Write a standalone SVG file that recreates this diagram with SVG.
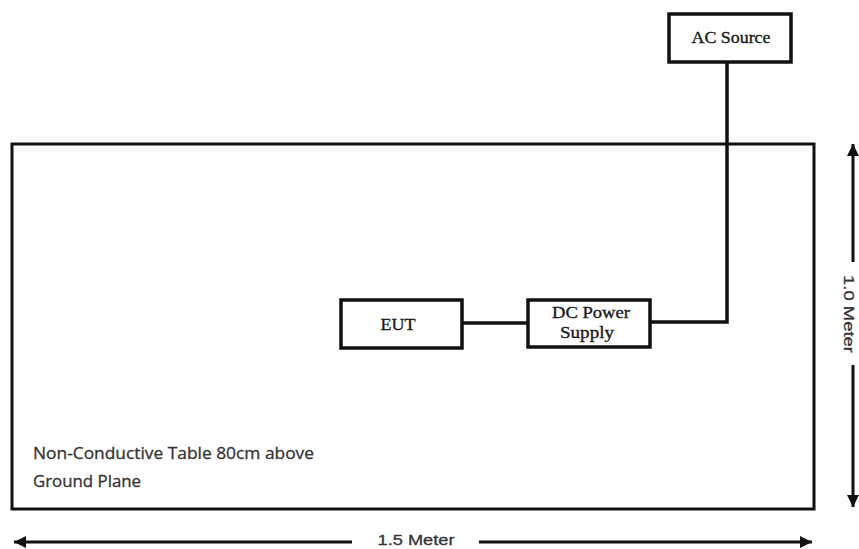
<svg xmlns="http://www.w3.org/2000/svg" width="859" height="549" viewBox="0 0 859 549">
<style>
.box{fill:#fff;stroke:#111;stroke-width:3.5}
.wire{fill:none;stroke:#111;stroke-width:3.5}
.lbl{font-family:"Liberation Serif",serif;font-size:17px;fill:#1a1a1a;text-anchor:middle;stroke:#1a1a1a;stroke-width:0.35}
.note{font-family:"Open Sans","Liberation Sans",sans-serif;font-size:16px;fill:#333;stroke:#333;stroke-width:0.3}
.dim{stroke:#111;stroke-width:3}
.dimt{font-family:"Liberation Sans",sans-serif;font-size:15px;fill:#333;text-anchor:middle;stroke:#333;stroke-width:0.3}
</style>
<defs>
<marker id="ah" viewBox="0 0 10 10" refX="10" refY="5" markerWidth="5" markerHeight="4" markerUnits="strokeWidth" orient="auto-start-reverse">
<path d="M0,0 L10,5 L0,10 z" fill="#111"/>
</marker>
</defs>
<rect width="859" height="549" fill="#fff"/>
<g id="table">
<rect x="12" y="144" width="802" height="365" fill="none" stroke="#111" stroke-width="3"/>
<text class="note" x="33" y="459" textLength="281" lengthAdjust="spacingAndGlyphs">Non-Conductive Table 80cm above</text>
<text class="note" x="33" y="487" textLength="108" lengthAdjust="spacingAndGlyphs">Ground Plane</text>
</g>
<g id="connectors">
<polyline class="wire" points="650,322 727,322 727,62"/>
<line class="wire" x1="462" y1="323" x2="528" y2="323"/>
</g>
<g id="ac-source">
<rect class="box" x="669" y="14" width="122" height="48"/>
<text class="lbl" x="731" y="43" textLength="79" lengthAdjust="spacingAndGlyphs">AC Source</text>
</g>
<g id="eut">
<rect class="box" x="341" y="300" width="121" height="48"/>
<text class="lbl" x="398" y="330" textLength="35" lengthAdjust="spacingAndGlyphs">EUT</text>
</g>
<g id="dc-power-supply">
<rect class="box" x="528" y="300" width="122" height="47"/>
<text class="lbl" x="591" y="318" textLength="78" lengthAdjust="spacingAndGlyphs">DC Power</text>
<text class="lbl" x="587" y="338" textLength="54" lengthAdjust="spacingAndGlyphs">Supply</text>
</g>
<g id="dimensions">
<line class="dim" x1="14" y1="542" x2="352" y2="542" marker-start="url(#ah)"/>
<line class="dim" x1="479" y1="542" x2="812" y2="542" marker-end="url(#ah)"/>
<text class="dimt" x="416" y="545" textLength="77" lengthAdjust="spacingAndGlyphs">1.5 Meter</text>
<line class="dim" x1="853" y1="144" x2="853" y2="262" marker-start="url(#ah)"/>
<line class="dim" x1="853" y1="365" x2="853" y2="507" marker-end="url(#ah)"/>
<text class="dimt" transform="translate(844,314) rotate(90)" textLength="78" lengthAdjust="spacingAndGlyphs">1.0 Meter</text>
</g>
</svg>
